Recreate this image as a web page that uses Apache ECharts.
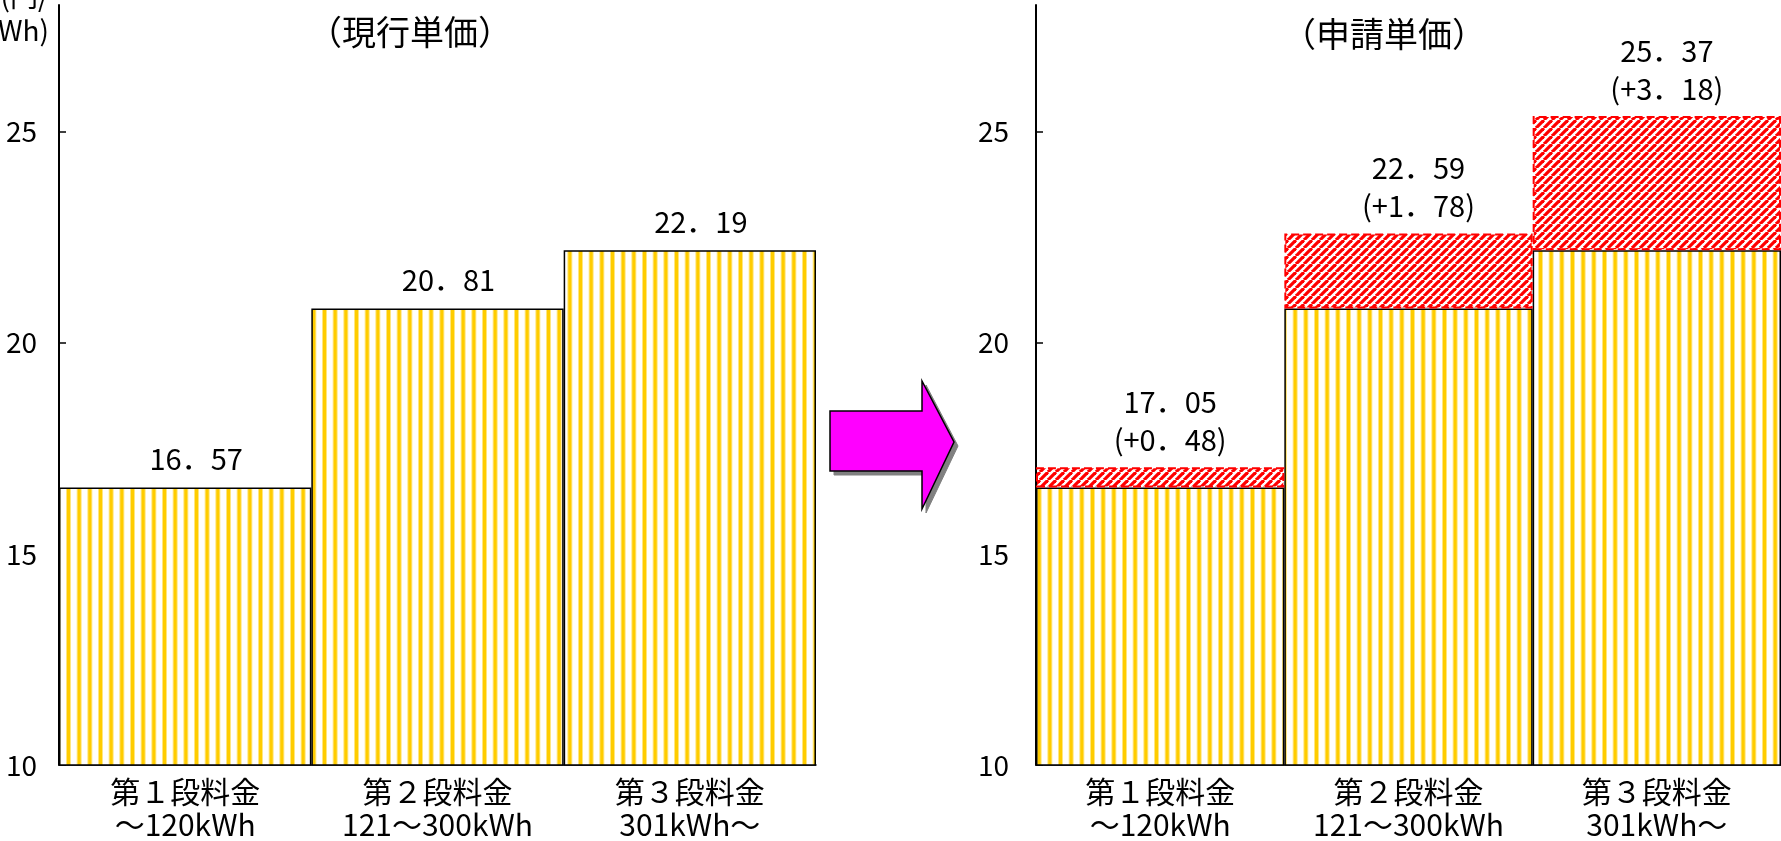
<!DOCTYPE html>
<html>
<head>
<meta charset="utf-8">
<script src="https://cdn.jsdelivr.net/npm/echarts@6/dist/echarts.min.js"></script>
<style>
html,body{margin:0;padding:0;background:#fff;}
#main{width:1781px;height:841px;}
</style>
</head>
<body>
<div id="main"></div>
<script>
// ---- data ----
const categories = ['第１段料金\n～120kWh', '第２段料金\n121～300kWh', '第３段料金\n301kWh～'];
const currentPrice = [16.57, 20.81, 22.19];
const priceIncrease = [0.48, 1.78, 3.18];
const appliedPrice = [17.05, 22.59, 25.37];
const yTicks = [10, 15, 20, 25];
const leftTitle = '（現行単価）';
const rightTitle = '（申請単価）';
const yUnit = '(円/\nkWh)';

// ---- patterns ----
function yellowStripes() {
  const c = document.createElement('canvas');
  c.width = 32; c.height = 8;
  const ctx = c.getContext('2d');
  ctx.fillStyle = '#ffffff'; ctx.fillRect(0, 0, 32, 8);
  [0, 10.67, 21.33].forEach(function (x) {
    ctx.fillStyle = '#FFE680'; ctx.fillRect(x + 2, 0, 5, 8);
    ctx.fillStyle = '#FFCC00'; ctx.fillRect(x + 3, 0, 3, 8);
  });
  return c;
}
function redHatch() {
  const s = 8;
  const c = document.createElement('canvas');
  c.width = s; c.height = s;
  const ctx = c.getContext('2d');
  ctx.fillStyle = '#ffffff'; ctx.fillRect(0, 0, s, s);
  ctx.strokeStyle = '#FF0000'; ctx.lineWidth = 3.2;
  [-s, 0, s].forEach(function (k) {
    ctx.beginPath(); ctx.moveTo(k, s); ctx.lineTo(k + s, 0); ctx.stroke();
  });
  return c;
}
const yellowFill = { image: yellowStripes(), repeat: 'repeat' };
const redFill = { image: redHatch(), repeat: 'repeat' };

const FONT = '"Noto Sans CJK JP", "Noto Sans", sans-serif';
function fmt(v) { return v.toFixed(2).replace('.', '．'); }

function makeY(idx, margin) {
  return {
    type: 'value', gridIndex: idx, min: 10, max: 28,
    axisLine: { show: true, lineStyle: { color: '#000', width: 2 } },
    axisTick: { show: true, inside: true, length: 7, lineStyle: { color: '#000', width: 1.5 }, customValues: yTicks },
    axisLabel: { color: '#000', fontSize: 28, fontFamily: FONT, margin: margin, customValues: yTicks },
    splitLine: { show: false }
  };
}
function makeX(idx) {
  return {
    type: 'category', gridIndex: idx, data: categories,
    axisLine: { show: true, lineStyle: { color: '#000', width: 1.5 } },
    axisTick: { show: false },
    axisLabel: { color: '#000', fontSize: 30, lineHeight: 33, fontFamily: FONT, margin: 10, interval: 0 }
  };
}

const chart = echarts.init(document.getElementById('main'));
chart.setOption({
  backgroundColor: '#ffffff',
  animation: false,
  grid: [
    { left: 59, right: 965, top: 5, bottom: 73, containLabel: false },
    { left: 1036, right: -12, top: 5, bottom: 73, containLabel: false }
  ],
  xAxis: [makeX(0), makeX(1)],
  yAxis: [makeY(0, 22), makeY(1, 27)],
  graphic: [
    { type: 'text', position: [410, 32], style: { text: leftTitle, fontSize: 34, fontFamily: FONT, fill: '#000', textAlign: 'center', textVerticalAlign: 'middle' } },
    { type: 'text', position: [1384, 34], style: { text: rightTitle, fontSize: 34, fontFamily: FONT, fill: '#000', textAlign: 'center', textVerticalAlign: 'middle' } },
    { type: 'text', position: [49, 47], style: { text: yUnit, fontSize: 28, lineHeight: 34, fontFamily: FONT, fill: '#000', textAlign: 'right', textVerticalAlign: 'bottom' } },
    { type: 'polygon', z: 10, shape: { points: [[834, 415], [926, 415], [926, 385], [958, 446], [926, 513], [926, 475], [834, 475]] }, style: { fill: '#808080', stroke: '#808080', lineWidth: 1 } },
    { type: 'polygon', z: 11, shape: { points: [[830, 411], [922, 411], [922, 381], [954, 442], [922, 509], [922, 471], [830, 471]] }, style: { fill: '#FF00FF', stroke: '#000', lineWidth: 1.5 } }
  ],
  series: [
    {
      type: 'bar', xAxisIndex: 0, yAxisIndex: 0, data: currentPrice,
      barWidth: '100%', barCategoryGap: 0,
      itemStyle: { color: yellowFill, borderColor: '#000', borderWidth: 1.5 },
      label: { show: true, position: 'top', distance: 11, offset: [11, 0], fontSize: 29, lineHeight: 35, fontFamily: FONT, color: '#000',
        formatter: function (p) { return fmt(p.value); } }
    },
    {
      type: 'bar', xAxisIndex: 1, yAxisIndex: 1, data: currentPrice, stack: 'new',
      barWidth: '100%', barCategoryGap: 0,
      itemStyle: { color: yellowFill, borderColor: '#000', borderWidth: 1.5 }
    },
    {
      type: 'bar', xAxisIndex: 1, yAxisIndex: 1, data: priceIncrease, stack: 'new',
      barWidth: '100%', barCategoryGap: 0,
      itemStyle: { color: redFill, borderColor: '#FF0000', borderWidth: 2, borderType: 'dashed' },
      label: { show: true, position: 'top', distance: 8, offset: [10, 0], fontSize: 29, lineHeight: 38, fontFamily: FONT, color: '#000',
        formatter: function (p) { return fmt(appliedPrice[p.dataIndex]) + '\n(+' + fmt(priceIncrease[p.dataIndex]) + ')'; } }
    }
  ]
});
</script>
</body>
</html>
